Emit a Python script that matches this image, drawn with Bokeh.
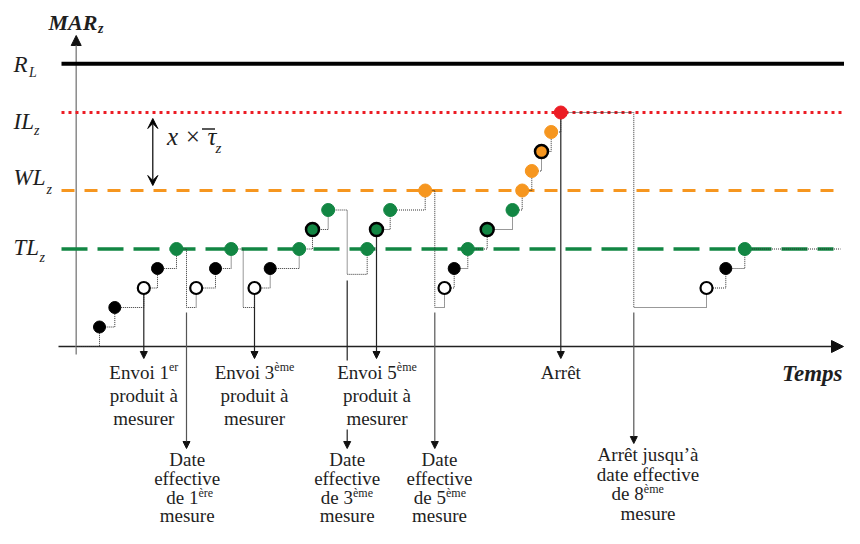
from bokeh.plotting import figure
from bokeh.models import Range1d, ColumnDataSource, Arrow, NormalHead, VeeHead
from bokeh.core.properties import value
from bokeh.embed import file_html
from bokeh.resources import INLINE

# ---------------- chart values ----------------
# thresholds (MAR steps above the time axis)
limit_names = ["R_L", "IL_z", "WL_z", "TL_z"]
limit_levels = [14.5, 12, 8, 5]
limit_start = [61, 61, 61, 61]
limit_end = [848, 846, 843, 833]

# measured points: time, MAR level, kind
pt_t = [99, 114.3, 143.3, 157, 176,
        195.7, 215, 230.7,
        254, 269.7, 298.7, 312, 327.7,
        366.7, 376, 389.7, 424.7,
        444, 453.7, 467.3, 486.7, 512, 521.7, 531.3, 541, 550.7, 560.3,
        706, 725.3, 744.3]
pt_lvl = [1, 2, 3, 4, 5,
          3, 4, 5,
          3, 4, 5, 6, 7,
          5, 6, 7, 8,
          3, 4, 5, 6, 7, 8, 9, 10, 11, 12,
          3, 4, 5]
pt_kind = ["black", "black", "open", "black", "green",
           "open", "black", "green",
           "open", "black", "green", "green_o", "green",
           "green", "green_o", "green", "orange",
           "open", "black", "green", "green_o", "green", "orange", "orange", "orange_o", "orange", "red",
           "open", "black", "green"]

# MAR step path (held value until next change)
step_t = [75.7, 99, 114.3, 143.3, 157, 176, 186, 195.7, 215, 230.7, 242.7, 254, 269.7,
          298.7, 312, 327.7, 346.7, 366.7, 376, 389.7, 424.7, 434.3, 444, 453.7, 467.3,
          486.7, 512, 521.7, 531.3, 541, 550.7, 560.3, 633.3, 706, 725.3, 744.3, 840]
step_lvl = [0, 1, 2, 3, 4, 5, 2, 3, 4, 5, 2, 3, 4,
            5, 6, 7, 3.7, 5, 6, 7, 8, 2, 3, 4, 5,
            6, 7, 8, 9, 10, 11, 12, 2, 3, 4, 5, 5]

# events on time axis
envoi_t = [143.3, 254, 376]
envoi_from = [3, 3, 6]
arret_t = 560.3
arret_from = 12
date_t = [186, 434.3, 633.3]

# ---------------- layout helpers ----------------
PX_PER_LEVEL = 19.5
BASE_PY = 346.0
W, H = 844, 528


def lv(py):
    return (BASE_PY - py) / PX_PER_LEVEL


FONT = value("Liberation Serif")
TXT = "#1e1e1e"

p = figure(width=W, height=H, x_range=Range1d(0, W),
           y_range=Range1d(lv(H), lv(0)),
           output_backend="svg", toolbar_location=None, min_border=0,
           x_axis_location=None, y_axis_location=None)
p.grid.visible = False
p.outline_line_color = None
p.background_fill_color = "white"
p.border_fill_color = "white"


def txt(x, py, s, size, align="center", style="normal"):
    # compensate the renderer's baseline offset so that py is the visual baseline
    y = lv(py - 0.36 * size)
    p.text(x=[x], y=[y], text=[s], text_font=FONT, text_font_size=f"{size}px",
           text_align=align, text_baseline="alphabetic", text_font_style=style,
           text_color=TXT)


def arrow(x0, y0, x1, y1, color="#222222", width=1.2, head=7, level="underlay"):
    a = Arrow(end=NormalHead(size=head, fill_color="#111111", line_color="#111111", line_width=1),
              x_start=x0, y_start=y0, x_end=x1, y_end=y1,
              line_color=color, line_width=width, level=level)
    p.add_layout(a)


# ---------------- axes ----------------
arrow(58, 0, 843, 0, color="#222222", width=1.5, head=12)
arrow(75.7, lv(354), 75.7, lv(35), color="#8a8a8a", width=1.5, head=10)

# ---------------- threshold lines ----------------
styles = {
    "R_L": dict(line_color="black", line_width=4, line_dash="solid"),
    "IL_z": dict(line_color="#ec1c24", line_width=3, line_dash="3 4"),
    "WL_z": dict(line_color="#f6961f", line_width=3, line_dash="13 10"),
    "TL_z": dict(line_color="#128643", line_width=3.5, line_dash="26 10"),
}
for name, lvl, x0, x1 in zip(limit_names, limit_levels, limit_start, limit_end):
    p.line([x0, x1], [lvl, lvl], **styles[name])

# ---------------- event arrows ----------------
for t, l0 in zip(envoi_t, envoi_from):
    arrow(t, l0 - 0.3, t, lv(358))
arrow(arret_t, arret_from, arret_t, lv(358))
for t in date_t:
    tip = 443 if t > 600 else 448
    arrow(t, lv(312), t, lv(tip), color="#555555")
# 3rd measurement date line (partly hidden behind the text block)
p.segment(x0=[346.7], y0=[lv(280)], x1=[346.7], y1=[lv(360)], line_color="#222222", line_width=1.2)
arrow(346.7, lv(429), 346.7, lv(448))

# ---------------- step path ----------------
p.step(step_t, step_lvl, mode="after", line_color="#333333", line_width=1, line_dash="1 1")

# ---------------- points ----------------
GREEN, ORANGE, RED = "#128643", "#f6961f", "#ec1c24"
kind_style = {
    "black": ("black", "black", 1, 12),
    "open": ("white", "black", 2.2, 12),
    "green": (GREEN, GREEN, 1, 13),
    "green_o": (GREEN, "black", 2.5, 13),
    "orange": (ORANGE, ORANGE, 1, 13),
    "orange_o": (ORANGE, "black", 2.5, 13),
    "red": (RED, RED, 1, 13),
}
src = ColumnDataSource(dict(
    t=pt_t, lvl=pt_lvl,
    fill=[kind_style[k][0] for k in pt_kind],
    line=[kind_style[k][1] for k in pt_kind],
    lw=[kind_style[k][2] for k in pt_kind],
    size=[kind_style[k][3] for k in pt_kind],
))
p.scatter("t", "lvl", source=src, size="size", fill_color="fill", line_color="line", line_width="lw")

# ---------------- labels ----------------
# left threshold labels
txt(13, 72, "R", 23, "left", "italic"); txt(28.5, 77.5, "L", 14, "left", "italic")
txt(13, 129, "IL", 23, "left", "italic"); txt(33.5, 135, "z", 14, "left", "italic")
txt(13, 185, "WL", 23, "left", "italic"); txt(46, 194, "z", 14, "left", "italic")
txt(13, 255, "TL", 23, "left", "italic"); txt(39, 262, "z", 14, "left", "italic")
# axis titles
txt(48, 29.5, "MAR", 22, "left", "bold italic"); txt(97.5, 33.5, "z", 14, "left", "bold italic")
txt(842, 381.5, "Temps", 23, "right", "bold italic")
# x * tau annotation
a2 = Arrow(start=VeeHead(size=10, fill_color="black", line_color="black"),
           end=VeeHead(size=10, fill_color="black", line_color="black"),
           x_start=152.3, y_start=lv(185), x_end=152.3, y_end=lv(118),
           line_color="black", line_width=1.2)
p.add_layout(a2)
txt(166.5, 145, "x × τ", 25, "left", "italic")
p.segment(x0=[201.5], y0=[lv(128.5)], x1=[214.5], y1=[lv(128.5)], line_color="#222222", line_width=1.3)
txt(215, 153, "z", 15, "left", "italic")

# bottom annotations
SZ, SUP = 19, 12
# Envoi 1er
txt(168.5, 379, "Envoi 1", SZ, "right"); txt(168.5, 371, "er", SUP, "left")
txt(143.3, 401.8, "produit à", SZ); txt(143.3, 424.6, "mesurer", SZ)
# Envoi 3eme
txt(273.8, 379, "Envoi 3", SZ, "right"); txt(273.8, 371, "ème", SUP, "left")
txt(254, 401.8, "produit à", SZ); txt(254, 424.6, "mesurer", SZ)
# Envoi 5eme
txt(396.3, 379, "Envoi 5", SZ, "right"); txt(396.3, 371, "ème", SUP, "left")
txt(376.5, 401.8, "produit à", SZ); txt(376.5, 424.6, "mesurer", SZ)
# Arret
txt(560.3, 379, "Arrêt", SZ)
# Date effective blocks (compressed to fit the page)
for cx, split, num, sup in [(186.7, 198, "de 1", "ère"), (346.7, 352.5, "de 3", "ème"), (439, 445.5, "de 5", "ème")]:
    txt(cx, 466, "Date", SZ)
    txt(cx, 485, "effective", SZ)
    txt(split, 504, num, SZ, "right"); txt(split, 496.5, sup, SUP, "left")
    txt(cx, 521.5, "mesure", SZ)
# Arret jusqu'a
txt(647.5, 461, "Arrêt jusqu’à", SZ)
txt(647.5, 480.5, "date effective", SZ)
txt(643.3, 500, "de 8", SZ, "right"); txt(643.3, 492.5, "ème", SUP, "left")
txt(647.5, 519.5, "mesure", SZ)

open("out.html", "w").write(file_html(p, INLINE))
